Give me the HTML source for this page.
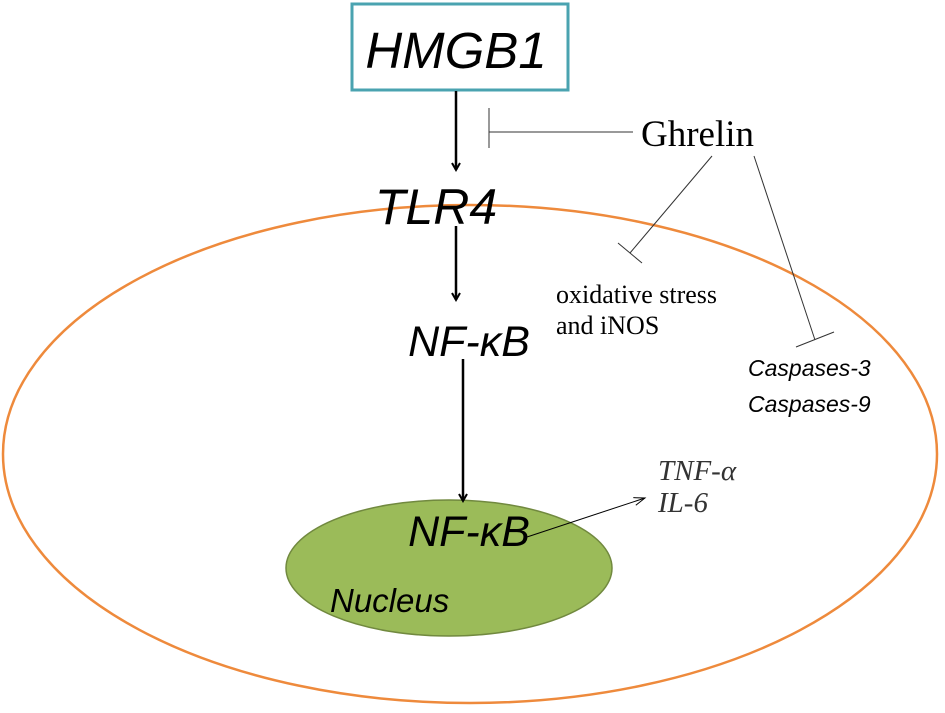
<!DOCTYPE html>
<html><head><style>
body{margin:0;background:#fff;}
svg{display:block}
.s{font-family:"Liberation Sans",sans-serif;font-style:italic}
.r{font-family:"Liberation Serif",serif}
</style></head><body>
<svg width="945" height="713" viewBox="0 0 945 713" xmlns="http://www.w3.org/2000/svg">
<defs><marker id="a" markerWidth="10" markerHeight="10" refX="8" refY="5" orient="auto" markerUnits="userSpaceOnUse"><path d="M1,1 L8,5 L1,9" fill="none" stroke="#000" stroke-width="2"/></marker>
<marker id="b" markerWidth="14" markerHeight="10" refX="12" refY="5" orient="auto" markerUnits="userSpaceOnUse"><path d="M1,1 L12,5 L1,9" fill="none" stroke="#000" stroke-width="1"/></marker></defs>
<ellipse cx="470" cy="454" rx="467" ry="249" fill="none" stroke="#ee8a3c" stroke-width="2.5"/>
<ellipse cx="449" cy="568" rx="163" ry="68" fill="#9bbb59" stroke="#71893f" stroke-width="1.5"/>
<rect x="352" y="4" width="216" height="86" fill="#fff" stroke="#4aa3b0" stroke-width="3"/>
<text x="456" y="68" class="s" font-size="51" text-anchor="middle">HMGB1</text>
<line x1="456" y1="91" x2="456" y2="170" stroke="#000" stroke-width="2.5" marker-end="url(#a)"/>
<text x="436" y="224" class="s" font-size="50" text-anchor="middle">TLR4</text>
<line x1="456" y1="226" x2="456" y2="300" stroke="#000" stroke-width="2.5" marker-end="url(#a)"/>
<text x="469" y="356" class="s" font-size="43" text-anchor="middle">NF-κB</text>
<line x1="463" y1="359" x2="463" y2="501" stroke="#000" stroke-width="2.5" marker-end="url(#a)"/>
<text x="469" y="546" class="s" font-size="43" text-anchor="middle">NF-κB</text>
<text x="330" y="612" class="s" font-size="33">Nucleus</text>
<line x1="527" y1="537" x2="645" y2="498" stroke="#000" stroke-width="1" marker-end="url(#b)"/>
<text x="658" y="480" class="r" font-size="29" font-style="italic" fill="#333">TNF-α</text>
<text x="658" y="512" class="r" font-size="29" font-style="italic" fill="#333">IL-6</text>
<text x="641" y="146" class="r" font-size="37">Ghrelin</text>
<line x1="489" y1="132" x2="633" y2="132" stroke="#333" stroke-width="1"/>
<line x1="489" y1="108" x2="489" y2="148" stroke="#333" stroke-width="1"/>
<line x1="712" y1="156" x2="630" y2="253" stroke="#333" stroke-width="1"/>
<line x1="618" y1="243" x2="642" y2="263" stroke="#333" stroke-width="1"/>
<line x1="754" y1="156" x2="815" y2="340" stroke="#333" stroke-width="1"/>
<line x1="796" y1="347" x2="834" y2="332" stroke="#333" stroke-width="1"/>
<text x="556" y="303" class="r" font-size="26">oxidative stress</text>
<text x="556" y="334" class="r" font-size="26">and iNOS</text>
<text x="748" y="376" class="s" font-size="23">Caspases-3</text>
<text x="748" y="412" class="s" font-size="23">Caspases-9</text>
</svg>
</body></html>
